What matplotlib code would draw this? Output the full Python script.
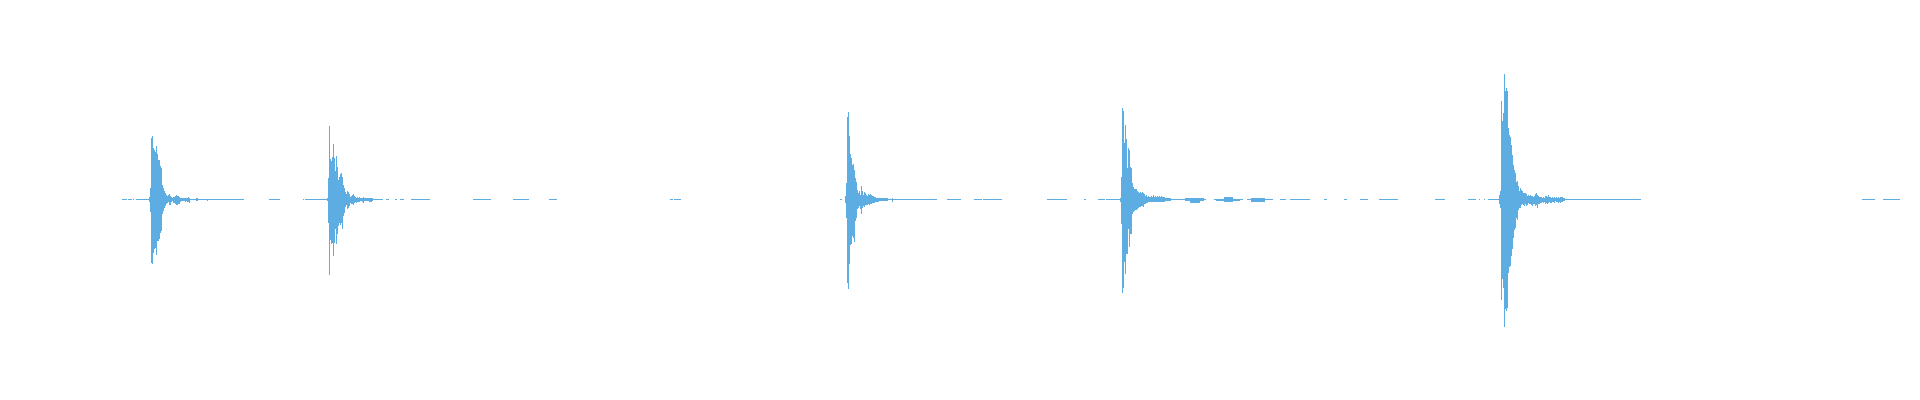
import matplotlib
matplotlib.use("Agg")
import matplotlib.pyplot as plt
import numpy as np

# waveform peak envelopes, one value per column (sample block), amplitude units
hit1_start = 149
hit1_top = [2, 11, 61, 63, 51, 49, 47, 53, 45, 39, 39, 33, 31, 14, 11, 8, 6, 4, 3, 4,
            5, 3, 2, 1, 2, 2, 3, 4, 3, 3, 2, 1, 1, 1, 1, 1, 1, 1, 1, 2, 1]
hit1_bot = [2, 12, 63, 64, 53, 49, 48, 55, 41, 41, 39, 33, 31, 14, 11, 8, 6, 4, 3, 2,
            5, 5, 2, 1, 3, 3, 4, 5, 5, 4, 4, 2, 1, 1, 1, 1, 2, 1, 2, 2, 3]

hit2_start = 327
hit2_top = [1, 21, 73, 40, 38, 42, 55, 41, 28, 43, 32, 19, 22, 25, 26, 22, 14, 11, 7, 5,
            8, 7, 5, 2, 3, 4, 5, 3, 2, 1, 2, 1, 2, 1, 1, 1, 2, 1, 1, 1, 1, 1, 1, 1, 1, 1]
hit2_bot = [1, 23, 75, 40, 44, 43, 56, 43, 29, 44, 34, 26, 23, 25, 23, 29, 16, 13, 7, 5,
            9, 8, 6, 3, 4, 4, 5, 3, 2, 3, 2, 2, 2, 1, 1, 2, 3, 1, 1, 1, 1, 1, 2, 2, 2, 1]

hit3_start = 845
hit3_top = [3, 16, 82, 87, 63, 45, 41, 34, 35, 29, 21, 17, 9, 6, 8, 4, 13, 8, 4, 7,
            6, 4, 3, 5, 4, 5, 4, 3, 3, 2, 2, 1, 1, 1, 1, 1, 1, 1, 1, 1, 1, 1, 1]
hit3_bot = [3, 18, 83, 89, 64, 45, 44, 36, 38, 42, 21, 18, 9, 8, 6, 9, 14, 8, 6, 7,
            5, 5, 5, 4, 5, 4, 4, 3, 3, 3, 2, 2, 2, 2, 1, 1, 1, 1, 1, 1, 1, 1, 1]

hit4_start = 1120
hit4_top = [1, 22, 91, 88, 56, 74, 60, 31, 51, 49, 32, 31, 16, 12, 10, 10, 10, 8, 7, 6,
            7, 6, 7, 6, 5, 3, 4, 2, 3, 2, 2, 3, 2, 4, 2, 3, 2, 3, 2, 3, 2, 3, 2, 2, 2,
            1, 1, 1, 1, 1, 1]
hit4_bot = [2, 24, 93, 88, 62, 74, 54, 54, 29, 47, 34, 34, 14, 12, 11, 10, 10, 9, 8, 7,
            7, 6, 6, 7, 4, 4, 3, 3, 2, 2, 2, 2, 2, 2, 2, 2, 2, 2, 2, 2, 2, 2, 2, 2, 2,
            1, 1, 1, 1, 1, 1]

hit5_start = 1499
hit5_top = [4, 8, 98, 78, 86, 125, 108, 111, 108, 71, 64, 62, 54, 44, 34, 29, 26, 17, 18, 13,
            8, 11, 9, 8, 6, 6, 6, 5, 3, 4, 3, 4, 3, 3, 2, 3, 5, 6, 4, 3,
            2, 2, 2, 1, 2, 1, 3, 3, 2, 4, 2, 2, 1, 2, 1, 2, 1, 2, 1, 2,
            1, 2, 2, 2, 1, 1]
hit5_bot = [4, 8, 100, 79, 88, 127, 109, 111, 108, 73, 67, 66, 56, 49, 38, 30, 28, 18, 20, 10,
            8, 8, 5, 4, 5, 6, 4, 6, 5, 3, 4, 4, 5, 6, 4, 4, 6, 5, 8, 4,
            4, 3, 3, 2, 3, 2, 4, 3, 4, 3, 2, 3, 3, 2, 2, 3, 1, 2, 2, 3,
            2, 3, 2, 2, 1, 1]

# stretches of near-silent signal (start, end)
quiet_spans = [(122, 127), (128, 132), (133, 134), (136, 244), (269, 280), (303, 304),
               (305, 383), (386, 389), (395, 397), (400, 404), (411, 430), (473, 491),
               (513, 529), (549, 557), (670, 673), (674, 681), (840, 842), (845, 937),
               (947, 961), (974, 982), (983, 1002), (1047, 1067), (1084, 1086),
               (1098, 1105), (1106, 1204), (1204, 1206), (1214, 1243), (1247, 1273),
               (1280, 1286), (1290, 1310), (1324, 1327), (1344, 1347), (1360, 1368),
               (1379, 1398), (1435, 1445), (1468, 1476), (1479, 1480), (1484, 1485),
               (1488, 1641), (1862, 1875), (1883, 1900)]

# low ripples on the tails (start, end, top, bottom)
ripples = [(196, 198, 1, 1), (207, 208, 0, 1), (892, 893, 1, 2), (1185, 1190, 1, 1),
           (1190, 1200, 1, 3), (1200, 1204, 1, 1), (1216, 1224, 0, 1), (1224, 1233, 2, 2),
           (1233, 1240, 0, 1), (1251, 1265, 1, 2)]

wave_color = "#5DADE2"

fig = plt.figure(figsize=(19.2, 4.0), dpi=100)
ax = fig.add_axes([0, 0, 1, 1])

for start, top, bot in [(hit1_start, hit1_top, hit1_bot), (hit2_start, hit2_top, hit2_bot),
                        (hit3_start, hit3_top, hit3_bot), (hit4_start, hit4_top, hit4_bot),
                        (hit5_start, hit5_top, hit5_bot)]:
    top = np.array(top, dtype=float)
    bot = np.array(bot, dtype=float)
    edges = start + np.arange(len(top) + 1)
    ax.stairs(top + 0.5, edges, baseline=-bot - 0.5, fill=True,
              color=wave_color, linewidth=0)

for s, e, t, b in ripples:
    ax.stairs([t + 0.5], [s, e], baseline=[-b - 0.5], fill=True,
              color=wave_color, linewidth=0)

# silent stretches as a thin 1px strip
for s, e in quiet_spans:
    ax.stairs([0.5], [s, e], baseline=[-0.5], fill=True,
              color=wave_color, linewidth=0)

ax.set_xlim(0, 1920)
ax.set_ylim(-200.5, 199.5)
ax.axis("off")

fig.savefig("out.png", dpi=100, facecolor="white")
